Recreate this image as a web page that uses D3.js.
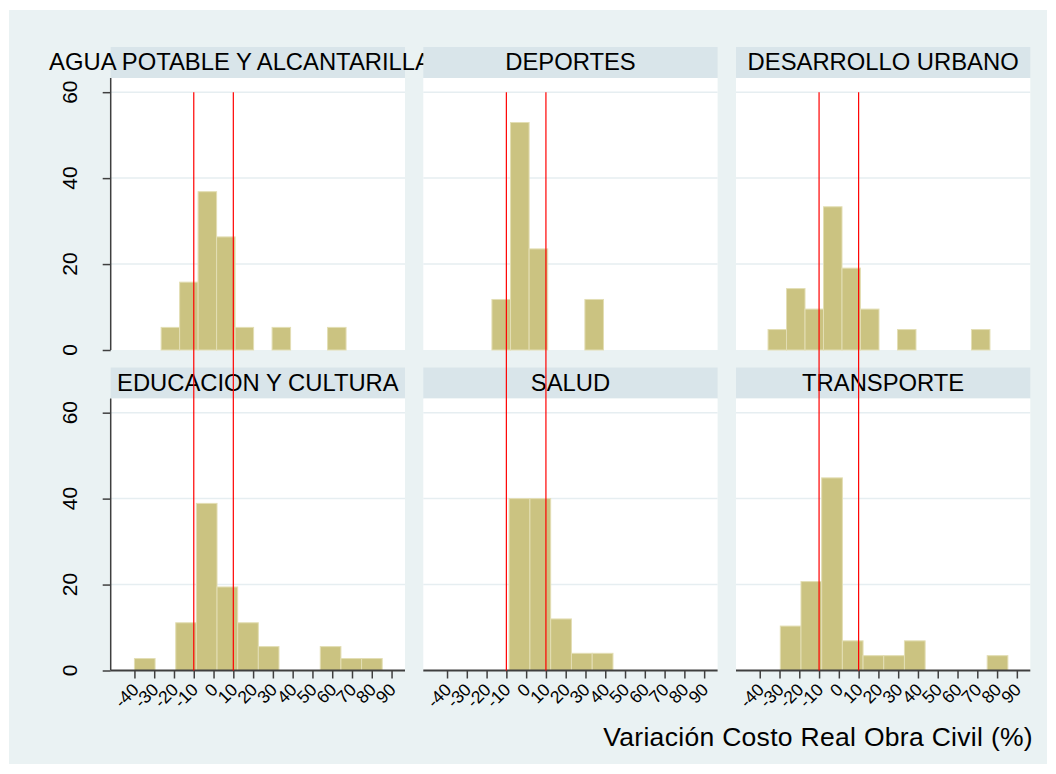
<!DOCTYPE html>
<html>
<head>
<meta charset="utf-8">
<script src="https://cdn.jsdelivr.net/npm/d3@7"></script>
<style>
  body { margin: 0; background: #fff; }
  text { font-family: "Liberation Sans", Arial, sans-serif; fill: #000; }
</style>
</head>
<body>
<div id="chart"></div>
<script>
// Panels (Stata-style histogram by sector), values are percent of projects per bin
const panelNames = [
  "AGUA POTABLE Y ALCANTARILLADO",
  "DEPORTES",
  "DESARROLLO URBANO",
  "EDUCACION Y CULTURA",
  "SALUD",
  "TRANSPORTE",
];

// left edge of first bin and bin width (in % units)
const binStart = [-26.5, -17.3, -35.8, -40, -8.6, -29.6];
const binWidth = [9.35, 9.4, 9.35, 10.44, 10.5, 10.46];

const percents = [
  [5.26, 15.79, 36.84, 26.32, 5.26, 0, 5.26, 0, 0, 5.26],
  [11.76, 52.94, 23.53, 0, 0, 11.76],
  [4.76, 14.29, 9.52, 33.33, 19.05, 9.52, 0, 4.76, 0, 0, 0, 4.76],
  [2.78, 0, 11.11, 38.89, 19.44, 11.11, 5.56, 0, 0, 5.56, 2.78, 2.78],
  [40, 40, 12, 4, 4],
  [10.34, 20.69, 44.83, 6.9, 3.45, 3.45, 6.9, 0, 0, 0, 3.45],
];

const xTicks = [-40, -30, -20, -10, 0, 10, 20, 30, 40, 50, 60, 70, 80, 90];
const yTicks = [0, 20, 40, 60];
const refLines = [-10, 10];
const xTitle = "Variación Costo Real Obra Civil (%)";

const W = 1056, H = 774;
const colLeft = [110.7, 423.3, 736];
const panelW = 294.3;
const headerTop = [47, 367.5];
const headerH = 31;
const plotH = 272;

const bg = "#eaf2f3", headerFill = "#d9e5ea", gridCol = "#e6eef1";
const barFill = "#cbc381", barLine = "#e3deb4", axisCol = "#3f3f3f";

const svg = d3.select("#chart").append("svg").attr("width", W).attr("height", H);
svg.append("rect").attr("x", 9).attr("y", 10).attr("width", 1038).attr("height", 754).attr("fill", bg);

const xDomain = [-52, 96.8];
const yDomain = [0, 63.3];

const scales = panelNames.map((name, i) => {
  const col = i % 3, row = Math.floor(i / 3);
  const top = headerTop[row] + headerH;
  return {
    x: d3.scaleLinear().domain(xDomain).range([colLeft[col], colLeft[col] + panelW]),
    y: d3.scaleLinear().domain(yDomain).range([top + plotH, top]),
    col, row, top,
  };
});

panelNames.forEach((name, i) => {
  const { x, y, col, row, top } = scales[i];
  const g = svg.append("g");

  // header strip
  g.append("rect")
    .attr("x", colLeft[col]).attr("y", headerTop[row])
    .attr("width", panelW).attr("height", headerH)
    .attr("fill", headerFill);
  g.append("text")
    .attr("x", colLeft[col] + panelW / 2).attr("y", headerTop[row] + 23)
    .attr("text-anchor", "middle").attr("font-size", 23.8)
    .text(name);

  // plot region
  g.append("rect")
    .attr("x", colLeft[col]).attr("y", top)
    .attr("width", panelW).attr("height", plotH)
    .attr("fill", "#fff");

  g.selectAll(".grid").data(yTicks.filter((t) => t > 0)).join("line")
    .attr("x1", colLeft[col]).attr("x2", colLeft[col] + panelW)
    .attr("y1", (d) => y(d)).attr("y2", (d) => y(d))
    .attr("stroke", gridCol).attr("stroke-width", 1.5);

  const bins = percents[i].map((v, k) => ({
    x0: binStart[i] + k * binWidth[i],
    x1: binStart[i] + (k + 1) * binWidth[i],
    v,
  })).filter((d) => d.v > 0);

  g.selectAll(".bar").data(bins).join("rect")
    .attr("x", (d) => x(d.x0)).attr("width", (d) => x(d.x1) - x(d.x0))
    .attr("y", (d) => y(d.v)).attr("height", (d) => y(0) - y(d.v))
    .attr("fill", barFill).attr("stroke", barLine).attr("stroke-width", 1);

  // y axis on left column
  if (col === 0) {
    const ya = g.append("g").attr("transform", `translate(${colLeft[col]},0)`)
      .call(d3.axisLeft(y).tickValues(yTicks).tickSize(8).tickPadding(0).tickFormat(""));
    ya.select(".domain").attr("stroke", axisCol).attr("stroke-width", 1.5)
      .attr("d", `M0,${top}V${y(0)}`);
    ya.selectAll(".tick line").attr("stroke", axisCol).attr("stroke-width", 1.5);
    g.selectAll(".ylab").data(yTicks).join("text")
      .attr("transform", (d) => `translate(77,${y(d)}) rotate(-90)`)
      .attr("text-anchor", "middle").attr("font-size", 21)
      .text((d) => d);
  }

  // x axis on bottom row
  if (row === 1) {
    const xa = g.append("g").attr("transform", `translate(0,${y(0)})`)
      .call(d3.axisBottom(x).tickValues(xTicks).tickSize(8).tickFormat(""));
    xa.select(".domain").attr("stroke", axisCol).attr("stroke-width", 1.8)
      .attr("d", `M${colLeft[col]},0H${colLeft[col] + panelW}`);
    xa.selectAll(".tick line").attr("stroke", axisCol).attr("stroke-width", 1.5);
    g.selectAll(".xlab").data(xTicks).join("text")
      .attr("transform", (d) => `translate(${x(d) + 1},${y(0) + 16}) rotate(-45)`)
      .attr("text-anchor", "end").attr("dy", "0.35em").attr("font-size", 17.5)
      .text((d) => d);
  }
});

// reference lines per column, from top row down to bottom axis
[0, 1, 2].forEach((col) => {
  const topS = scales[col], botS = scales[col + 3];
  svg.selectAll(null).data(refLines).join("line")
    .attr("x1", (d) => topS.x(d)).attr("x2", (d) => topS.x(d))
    .attr("y1", topS.y(60)).attr("y2", botS.y(0))
    .attr("stroke", "#ff0000").attr("stroke-width", 1.2);
});

svg.append("text")
  .attr("x", 1033).attr("y", 746)
  .attr("text-anchor", "end").attr("font-size", 26.5).attr("letter-spacing", 0.3)
  .text(xTitle);
</script>
</body>
</html>
